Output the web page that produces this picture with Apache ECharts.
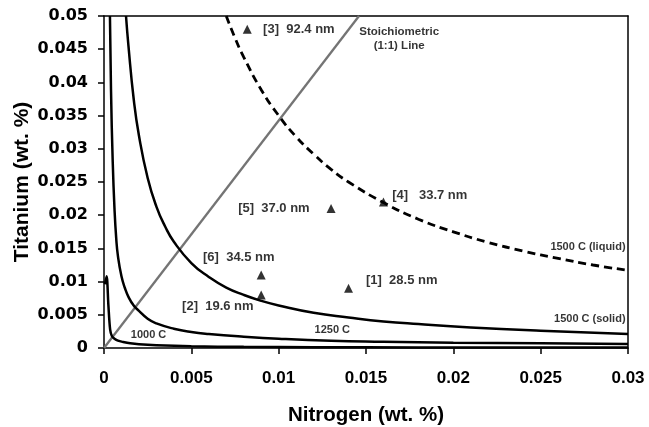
<!DOCTYPE html>
<html>
<head>
<meta charset="utf-8">
<script src="https://cdn.jsdelivr.net/npm/echarts@6/dist/echarts.min.js"></script>
<style>html,body{margin:0;padding:0;background:#fff;}#c{width:649px;height:427px;}</style>
</head>
<body>
<div id="c"></div>
<script>
// Axis tick labels
const xTickLabels = ['0','0.005','0.01','0.015','0.02','0.025','0.03'];
const yTickLabels = ['0','0.005','0.01','0.015','0.02','0.025','0.03','0.035','0.04','0.045','0.05'];

// 1000 C curve
const c1000X = [0.00005,0.00015,0.00025,0.00035,0.00045,0.0006,0.0008,0.0011,0.0015,0.002,0.003,0.005,0.008,0.012,0.018,0.03];
const c1000Y = [0.0096,0.0108,0.0065,0.0028,0.0018,0.0014,0.0011,0.0009,0.0007,0.00055,0.0004,0.00025,0.00017,0.00012,0.00009,0.00006];

// 1250 C curve
const c1250X = [0.00034,0.0004,0.0005,0.0006,0.0007,0.0008,0.001,0.0012,0.0014,0.0017,0.002,0.0025,0.003,0.004,0.005,0.006,0.008,0.01,0.013,0.016,0.02,0.025,0.03];
const c1250Y = [0.05,0.039,0.028,0.021,0.0165,0.0138,0.0108,0.009,0.0077,0.0064,0.0056,0.0044,0.0037,0.0029,0.0024,0.0021,0.0017,0.0014,0.0011,0.00095,0.0008,0.0007,0.00062];

// 1500 C (solid)
const c1500sX = [0.00126,0.0014,0.0017,0.002,0.0025,0.003,0.0035,0.004,0.005,0.006,0.007,0.008,0.009,0.01,0.012,0.014,0.016,0.018,0.021,0.025,0.03];
const c1500sY = [0.05,0.0455,0.0375,0.032,0.0256,0.0213,0.0183,0.016,0.0128,0.0107,0.0091,0.008,0.0071,0.0064,0.0053,0.0046,0.004,0.0036,0.0031,0.0026,0.0021];

// 1500 C (liquid)
const c1500lX = [0.007,0.0075,0.008,0.009,0.01,0.011,0.012,0.013,0.014,0.016,0.018,0.02,0.022,0.024,0.026,0.028,0.03];
const c1500lY = [0.05,0.0467,0.0438,0.0389,0.035,0.0318,0.0292,0.0269,0.025,0.0219,0.0194,0.0175,0.0159,0.0146,0.0135,0.0125,0.0117];

// Stoichiometric (1:1) line
const stoichX = [0,0.0146];
const stoichY = [0,0.05];

// Measured samples (triangles)
const sampleX = [0.0082,0.016,0.013,0.009,0.009,0.014];
const sampleY = [0.048,0.022,0.021,0.011,0.008,0.009];

// Annotations
const annoText = ['[3]  92.4 nm','Stoichiometric\n(1:1) Line','[4]   33.7 nm','[5]  37.0 nm','[6]  34.5 nm','[2]  19.6 nm','[1]  28.5 nm','1250 C','1000 C','1500 C (liquid)','1500 C (solid)'];
const annoX = [0.00911,0.0169,0.0165,0.00768,0.00567,0.00447,0.0150,0.01307,0.00255,0.02986,0.02986];
const annoY = [0.04804,0.0466,0.02304,0.02108,0.0137,0.00622,0.01024,0.00271,0.00196,0.01526,0.00432];
const annoAlign = ['left','center','left','left','left','left','left','center','center','right','right'];
const annoSize = [13,11.5,13,13,13,13,13,11,11,11,11];

function zip(a,b){return a.map((v,i)=>[v,b[i]]);}

const chart = echarts.init(document.getElementById('c'));
const lineBase = {type:'line', showSymbol:false, symbol:'none', xAxisIndex:0, yAxisIndex:0, smooth:0.5, silent:true};

chart.setOption({
  animation:false,
  backgroundColor:'#fff',
  grid:{left:104,right:21,top:16,bottom:79,containLabel:false,outerBoundsMode:'none'},
  xAxis:[{
    type:'value', min:0, max:0.03, interval:0.005, position:'bottom',
    splitLine:{show:false},
    axisLine:{show:true,onZero:false,lineStyle:{color:'#000',width:1.5}},
    axisTick:{show:true,inside:false,length:6,lineStyle:{color:'#000',width:1.5}},
    axisLabel:{margin:22,color:'#000',fontFamily:'Liberation Sans',fontWeight:'bold',fontSize:17,
      formatter:function(v){return xTickLabels[Math.round(v/0.005)];}},
    name:'Nitrogen (wt. %)', nameLocation:'middle', nameGap:57, nameMoveOverlap:false,
    nameTextStyle:{color:'#000',fontFamily:'Liberation Sans',fontWeight:'bold',fontSize:20.5}
  },{
    type:'value', min:0, max:0.03, position:'top',
    splitLine:{show:false}, axisTick:{show:false}, axisLabel:{show:false},
    axisLine:{show:true,onZero:false,lineStyle:{color:'#000',width:1.5}}
  }],
  yAxis:[{
    type:'value', min:0, max:0.05, interval:0.005, position:'left',
    splitLine:{show:false},
    axisLine:{show:true,onZero:false,lineStyle:{color:'#000',width:1.5}},
    axisTick:{show:true,inside:false,length:6,lineStyle:{color:'#000',width:1.5}},
    axisLabel:{margin:16,color:'#000',fontFamily:'DejaVu Sans',fontWeight:'bold',fontSize:16,
      formatter:function(v){return yTickLabels[Math.round(v/0.005)];}},
    name:'Titanium (wt. %)', nameLocation:'middle', nameRotate:90, nameGap:71, nameMoveOverlap:false,
    nameTextStyle:{color:'#000',fontFamily:'Liberation Sans',fontWeight:'bold',fontSize:21}
  },{
    type:'value', min:0, max:0.05, position:'right',
    splitLine:{show:false}, axisTick:{show:false}, axisLabel:{show:false},
    axisLine:{show:true,onZero:false,lineStyle:{color:'#000',width:1.5}}
  }],
  series:[
    Object.assign({}, lineBase, {name:'stoich', smooth:false, data:zip(stoichX,stoichY), lineStyle:{color:'#747474',width:2.3}, z:2}),
    Object.assign({}, lineBase, {name:'1000 C', smooth:0.3, data:zip(c1000X,c1000Y), lineStyle:{color:'#000',width:2.5}, z:3}),
    Object.assign({}, lineBase, {name:'1250 C', data:zip(c1250X,c1250Y), lineStyle:{color:'#000',width:2.5}, z:3}),
    Object.assign({}, lineBase, {name:'1500 C (solid)', data:zip(c1500sX,c1500sY), lineStyle:{color:'#000',width:2.5}, z:3}),
    Object.assign({}, lineBase, {name:'1500 C (liquid)', data:zip(c1500lX,c1500lY), lineStyle:{color:'#000',width:2.8,type:[8,5]}, z:3}),
    {type:'scatter', name:'samples', symbol:'triangle', symbolSize:9, itemStyle:{color:'#000'}, data:zip(sampleX,sampleY), z:5, silent:true},
    {type:'scatter', name:'annotations', symbolSize:0, silent:true, z:6,
      data:annoText.map((t,i)=>({value:[annoX[i],annoY[i]],
        label:{show:true,formatter:t,position:[0,0],align:annoAlign[i],verticalAlign:'middle',
          color:'#000',textBorderWidth:0,textBorderColor:'transparent',fontFamily:'Liberation Sans',fontWeight:'bold',fontSize:annoSize[i],lineHeight:14}}))
    }
  ]
});
</script>
</body>
</html>
